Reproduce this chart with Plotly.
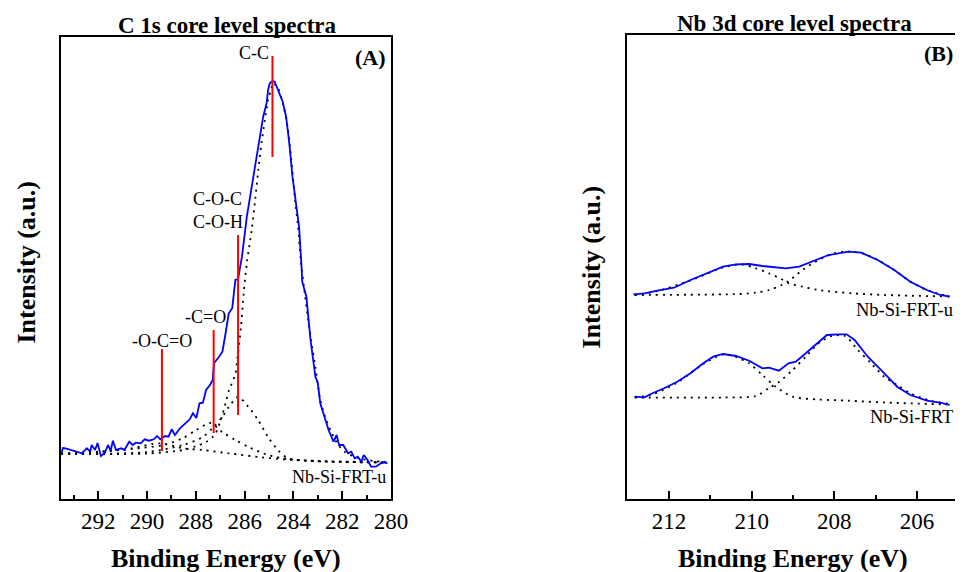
import plotly.graph_objects as go

# ---------------- Panel A : C 1s ----------------
a_be = [293.53, 293.45, 293.34, 293.14, 292.94, 292.67, 292.47, 292.33, 292.27, 292.13, 292.03, 291.89, 291.73,
        291.60, 291.49, 291.40, 291.27, 291.06, 290.93, 290.73, 290.59, 290.46, 290.26, 290.10, 289.92, 289.72,
        289.59, 289.46, 289.26, 289.12, 288.99, 288.86, 288.65, 288.45, 288.25, 288.12, 287.98, 287.85, 287.71,
        287.58, 287.42, 287.31, 287.25, 287.05, 286.91, 286.78, 286.65, 286.51, 286.38, 286.27, 286.11, 285.91,
        285.78, 285.57, 285.37, 285.24, 285.10, 285.04, 284.97, 284.86, 284.77, 284.64, 284.44, 284.30, 284.17,
        284.04, 283.90, 283.77, 283.66, 283.64, 283.47, 283.30, 283.10, 283.00, 282.90, 282.72, 282.56, 282.36,
        282.23, 282.13, 281.96, 281.76, 281.63, 281.49, 281.36, 281.22, 281.12, 280.96, 280.82, 280.62, 280.42,
        280.29, 280.15]
a_int = [44, 51, 50.7, 49, 47.3, 45.7, 50.7, 47.3, 54, 49, 56, 43, 46, 54, 48.3, 58.3, 49, 50.7, 49, 57.3, 54,
         56.3, 55.7, 59.7, 58.3, 59.7, 63, 59.7, 63, 62.3, 69.7, 64, 70.7, 75.7, 79.7, 85.7, 81, 95.7, 96.3, 109,
         114, 119, 136, 142.3, 147.3, 166, 185.7, 190.7, 219, 220, 242.3, 282.3, 302.3, 332.3, 362.3, 382.3, 395.7,
         409, 415.7, 418, 417.3, 409, 397.3, 382.3, 355.7, 322.3, 299, 272.3, 229, 217.3, 202.3, 159, 122.3, 115.7,
         95.7, 82.3, 69, 57.3, 64, 54, 54, 45.7, 47.3, 40.7, 42.3, 37.3, 44, 39, 32.3, 32.3, 35.7, 36.7, 35.7]

# fitted components (dotted)
cc_be = [293.53, 289.99, 288.52, 287.98, 287.58, 287.31, 287.18, 286.98, 286.78, 286.65, 286.38, 286.31, 286.15,
         286.04, 285.91, 285.71, 285.57, 285.44, 285.31, 285.17, 285.04, 284.90, 284.84, 284.64, 284.44, 284.24,
         284.10, 283.93, 283.81, 283.70, 283.57, 283.30, 283.10, 282.90, 282.70, 282.43, 282.16, 281.89, 281.36,
         280.69, 280.15]
cc_int = [45, 45.5, 49, 53, 57, 62, 66, 79, 96, 108, 125, 138, 172, 206, 236, 269, 299, 329, 356, 379, 399, 411,
          416, 411, 396, 372, 342, 298, 272, 239, 212, 162, 132, 99, 82, 66, 54, 47, 41, 38, 37]
coc_be = [293.53, 289.99, 288.52, 287.72, 287.31, 286.92, 286.65, 286.27, 285.84, 285.45, 285.04, 284.64, 284.24,
          283.30, 280.15]
coc_int = [45, 47, 54, 62, 71, 82, 92, 102, 92, 79, 62, 49, 41, 38, 36.5]
co_be = [293.53, 292.0, 290.66, 289.32, 288.52, 287.98, 287.40, 286.92, 286.38, 285.84, 285.04, 284.24, 282.76,
         280.15]
co_int = [45, 47, 50, 54, 61, 69, 76, 67, 59, 52, 44, 40, 37.5, 36.5]
oco_be = [293.53, 292.0, 290.66, 289.46, 288.52, 287.72, 286.65, 285.31, 283.97, 280.15]
oco_int = [45.7, 47.3, 50.7, 55.7, 50.7, 49, 45.7, 41.7, 39, 36.5]

# peak markers (red lines) and labels
peak_names = ["-O-C=O", "-C=O", "C-O-C<br>C-O-H", "C-C"]
peak_be = [289.39, 287.27, 286.27, 284.86]
peak_low = [48, 66, 84, 342]
peak_high = [150, 169, 264, 443]
label_x = [289.39, 287.62, 288.18, 285.61]
label_y = [158, 182, 288.5, 446]
label_anchor = ["center", "center", "left", "center"]

# ---------------- Panel B : Nb 3d ----------------
bu_be = [212.86, 212.59, 212.28, 211.88, 211.48, 211.09, 210.69, 210.38, 210.06, 209.74, 209.42, 209.17, 208.85,
         208.54, 208.14, 207.66, 207.35, 206.95, 206.55, 206.16, 205.76, 205.44, 205.21]
bu_int = [204.7, 205.7, 208.3, 211.3, 219, 225.7, 232.3, 234.7, 235, 233, 231.7, 230.7, 232.3, 237.3, 244, 247.3,
          246.3, 239, 229, 217.3, 209, 204, 202.3]
bu1_be = [212.83, 212.28, 211.48, 210.69, 210.24, 209.90, 209.58, 209.27, 209.10, 208.77, 208.38, 207.58, 206.79,
          205.21]
bu1_int = [204, 208, 218.5, 231.5, 234.5, 230.7, 225.7, 219.7, 215.7, 212.3, 209, 205.7, 204, 202.5]
bu2_be = [212.83, 210.29, 209.90, 209.58, 209.27, 209.10, 208.77, 208.38, 207.98, 207.66, 207.35, 206.95, 206.55,
          206.16, 205.76, 205.21]
bu2_int = [204, 205, 206.3, 209, 214, 218, 229, 239, 246, 247.3, 246, 239, 229, 217.3, 209, 202.5]

bl_be = [212.82, 212.59, 212.44, 212.12, 211.80, 211.48, 211.17, 210.93, 210.69, 210.38, 210.06, 209.74, 209.58,
         209.34, 209.11, 208.93, 208.69, 208.38, 208.18, 207.90, 207.70, 207.51, 207.19, 206.79, 206.48, 206.16,
         205.76, 205.44, 205.21]
bl_int = [102.3, 101.7, 105, 110.7, 117.3, 125.7, 135.7, 142.3, 145, 143, 138.3, 130.7, 131.3, 128.3, 135.7,
          137.3, 145.7, 157.3, 164, 164.7, 164.7, 159, 142.3, 125.7, 112.3, 104, 98.3, 96.3, 94]
bl1_be = [212.83, 212.44, 211.80, 211.17, 210.69, 210.38, 210.06, 209.74, 209.42, 209.01, 208.38, 207.66, 206.79,
          205.21]
bl1_int = [102, 104, 116.5, 135, 144.5, 142, 135.7, 124, 112.3, 102.3, 99.5, 98.3, 96.5, 94.5]
bl2_be = [212.83, 210.69, 209.90, 209.58, 209.33, 209.01, 208.69, 208.38, 208.06, 207.74, 207.43, 207.11, 206.79,
          206.48, 206.16, 205.68, 205.21]
bl2_int = [101.5, 101.5, 103, 111, 117.3, 129, 142.3, 155.7, 163, 163, 149, 135.7, 122.3, 114, 105.7, 98.3, 95]

sample_names = ["Nb-Si-FRT-u", "Nb-Si-FRT"]

# ---------------- Figure ----------------
W, H = 972, 572
SERIF = "Liberation Serif, Times New Roman, serif"
BLUE = "#0000ff"

fig = go.Figure()


def exp_line(x, y, xa, ya):
    fig.add_trace(go.Scatter(x=x, y=y, mode="lines", xaxis=xa, yaxis=ya,
                             line=dict(color=BLUE, width=1.8), showlegend=False, hoverinfo="skip"))


def fit_line(x, y, xa, ya):
    fig.add_trace(go.Scatter(x=x, y=y, mode="lines", xaxis=xa, yaxis=ya,
                             line=dict(color="black", width=1.8, dash="2px,5px", shape="spline", smoothing=0.8),
                             showlegend=False, hoverinfo="skip"))


# Panel A components
for bx, by in [(cc_be, cc_int), (coc_be, coc_int), (co_be, co_int), (oco_be, oco_int)]:
    fit_line(bx, by, "x", "y")
exp_line(a_be, a_int, "x", "y")
for be, lo, hi in zip(peak_be, peak_low, peak_high):
    fig.add_trace(go.Scatter(x=[be, be], y=[lo, hi], mode="lines", xaxis="x", yaxis="y",
                             line=dict(color="#ff0000", width=2), showlegend=False, hoverinfo="skip"))

# Panel B
for bx, by in [(bu1_be, bu1_int), (bu2_be, bu2_int), (bl1_be, bl1_int), (bl2_be, bl2_int)]:
    fit_line(bx, by, "x2", "y2")
exp_line(bu_be, bu_int, "x2", "y2")
exp_line(bl_be, bl_int, "x2", "y2")

axis_font = dict(family=SERIF, size=23, color="black")
xcommon = dict(showline=True, linecolor="black", linewidth=2, ticks="inside", ticklen=8, tickwidth=1.5,
               tickcolor="black", dtick=2, tick0=0, showgrid=False, zeroline=False, tickfont=axis_font,
               minor=dict(ticks="inside", ticklen=4, dtick=1, tickwidth=1.5, tickcolor="black", showgrid=False),
               mirror=True)
ycommon = dict(showline=True, linecolor="black", linewidth=2, ticks="", showticklabels=False,
               showgrid=False, zeroline=False)

fig.update_layout(
    width=W, height=H, autosize=False, margin=dict(l=0, r=0, t=0, b=0),
    paper_bgcolor="white", plot_bgcolor="white", showlegend=False,
    xaxis=dict(domain=[62 / W, 398 / W], range=[293.53, 280.0], anchor="y", **xcommon),
    yaxis=dict(domain=[1 - 499 / H, 1 - 37 / H], range=[0, 462], anchor="x", mirror=True, **ycommon),
    xaxis2=dict(domain=[638 / W, 1.0], range=[213.02, 205.08], anchor="y2", **xcommon),
    yaxis2=dict(domain=[1 - 499 / H, 1 - 35 / H], range=[0, 464], anchor="x2", mirror=False, **ycommon),
)

ann = []
lab_font = dict(family=SERIF, size=18, color="black")
for name, lx, ly, anc in zip(peak_names, label_x, label_y, label_anchor):
    ann.append(dict(x=lx, y=ly, xref="x", yref="y", text=name, showarrow=False, xanchor=anc,
                    yanchor="middle", font=lab_font, align="left"))
ann.append(dict(x=394.5 / W, y=1 - 477 / H, xref="paper", yref="paper", text=sample_names[0], showarrow=False,
                xanchor="right", yanchor="middle", font=lab_font))
# panel B sample labels, kept inside the page edge
bl_font = dict(family=SERIF, size=18.5, color="black")
ann.append(dict(x=971 / W, y=1 - 310 / H, xref="paper", yref="paper", text=sample_names[0], showarrow=False,
                xanchor="right", yanchor="middle", font=bl_font, borderpad=0))
ann.append(dict(x=971 / W, y=1 - 417 / H, xref="paper", yref="paper", text=sample_names[1], showarrow=False,
                xanchor="right", yanchor="middle", font=bl_font, borderpad=0))
pfont = dict(family=SERIF, size=22, color="black")
ann.append(dict(x=394.5 / W, y=1 - 58 / H, xref="paper", yref="paper", text="<b>(A)</b>", showarrow=False,
                xanchor="right", yanchor="middle", font=pfont))
ann.append(dict(x=971 / W, y=1 - 53 / H, xref="paper", yref="paper", text="<b>(B)</b>", showarrow=False,
                xanchor="right", yanchor="middle", font=pfont, borderpad=0))
tfont = dict(family=SERIF, size=23, color="black")
ann.append(dict(x=231 / W, y=1 - 25 / H, xref="paper", yref="paper", text="<b>C 1s core level spectra</b>",
                showarrow=False, xanchor="center", yanchor="middle", font=tfont))
ann.append(dict(x=809 / W, y=1 - 23 / H, xref="paper", yref="paper", text="<b>Nb 3d core level spectra</b>",
                showarrow=False, xanchor="center", yanchor="middle", font=tfont))
afont = dict(family=SERIF, size=26, color="black")
for cx in [230, 807.5]:
    ann.append(dict(x=cx / W, y=1 - 558 / H, xref="paper", yref="paper", text="<b>Binding Energy (eV)</b>",
                    showarrow=False, xanchor="center", yanchor="middle", font=afont))
for cx, cy in [(26, 262), (602, 267)]:
    ann.append(dict(x=cx / W, y=1 - cy / H, xref="paper", yref="paper", text="<b>Intensity (a.u.)</b>",
                    showarrow=False, xanchor="center", yanchor="middle", textangle=-90, font=afont))
fig.update_layout(annotations=ann)

fig.write_html("out.html", config={"responsive": False})
